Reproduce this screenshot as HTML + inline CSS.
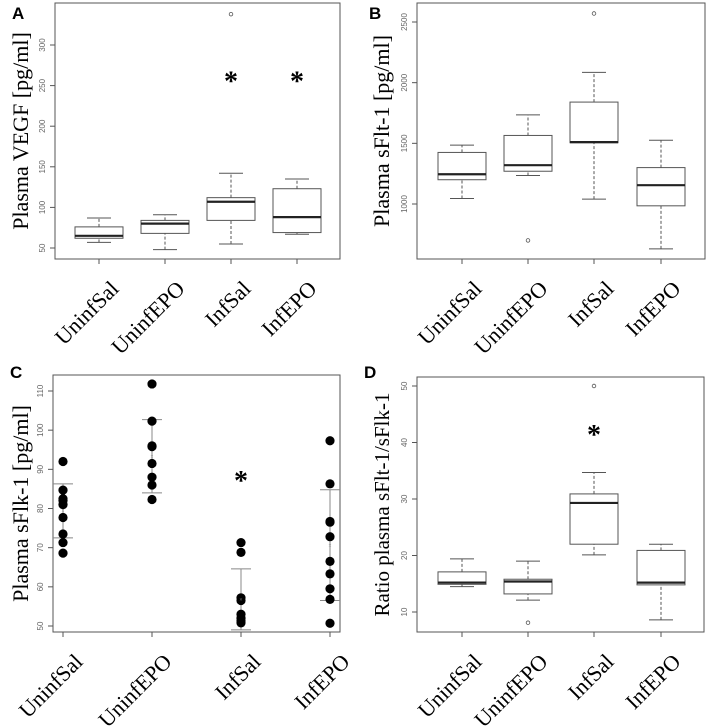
<!DOCTYPE html>
<html><head><meta charset="utf-8"><style>
body{margin:0;background:#fff;}
svg{display:block;font-family:"Liberation Serif",serif;}
.tk{font-family:"Liberation Sans",sans-serif;font-size:8px;fill:#666;}
.pl{font-family:"Liberation Sans",sans-serif;font-size:17px;font-weight:bold;fill:#000;}
</style></head><body>
<svg id="s" width="708" height="727" viewBox="0 0 708 727"></svg>
<script>
const categories=["UninfSal","UninfEPO","InfSal","InfEPO"];
// Panel A (VEGF) box stats: lo,q1,med,q3,hi
const aLo=[57,48,55,67], aQ1=[62,68,84,69], aMed=[65,80,107,88], aQ3=[76,84,112,123], aHi=[87,91,142,135];
const aOut=[[],[],[338],[]]; const aStar=[null,null,260,260];
const aTicks=[50,100,150,200,250,300];
// Panel B (sFlt-1)
const bLo=[1045,1235,1040,630], bQ1=[1200,1270,1505,985], bMed=[1245,1320,1510,1155], bQ3=[1425,1565,1840,1300], bHi=[1485,1735,2085,1525];
const bOut=[[],[700],[2570],[]]; const bStar=[null,null,null,null];
const bTicks=[1000,1500,2000,2500];
// Panel C (sFlk-1) points
const cPts=[[92,84.7,82.5,82,81,77.7,73.5,71.3,68.6],[111.8,102.3,96,95.8,91.5,88,86,82.3],[71.3,68.8,57.2,56.5,53,52,51.3,50.8],[97.3,86.3,76.7,76.5,72.8,66.5,63.3,59.5,56.8,50.7]];
const cMean=[79.5,93.3,56.8,70.6], cErrLo=[72.5,84,49,56.5], cErrHi=[86.3,102.7,64.6,84.8];
const cStar=[null,null,88,null];
const cTicks=[50,60,70,80,90,100,110];
// Panel D (ratio)
const dLo=[14.5,12.1,20.1,8.6], dQ1=[14.9,13.2,22,14.8], dMed=[15.2,15.4,29.3,15.2], dQ3=[17.1,15.8,30.9,20.9], dHi=[19.4,19,34.7,22];
const dOut=[[],[8.1],[50],[]]; const dStar=[null,null,42,null];
const dTicks=[10,20,30,40,50];

const S=document.getElementById('s');const NS="http://www.w3.org/2000/svg";
function mk(t,a,txt){const e=document.createElementNS(NS,t);for(const k in a)e.setAttribute(k,a[k]);if(txt!=null)e.textContent=txt;S.appendChild(e);return e;}

function panel(p){
  const yS=v=>p.y0+(v-p.v0)*(p.y1-p.y0)/(p.v1-p.v0);
  let e=mk('rect',{x:p.L,y:p.T,width:p.R-p.L,height:p.B-p.T,fill:'none',stroke:'#555','stroke-width':1});
  
  
  e=mk('text',{x:p.lx,y:p.ly,class:'pl'},p.letter);
  
  
  p.ticks.forEach(t=>{const y=yS(t);
    e=mk('line',{x1:p.L-5,x2:p.L,y1:y,y2:y,stroke:'#555'});
    
    
    e=mk('text',{x:p.L-10,y:y,class:'tk','text-anchor':'middle',transform:`rotate(-90 ${p.L-10} ${y})`},String(t));
    
    
  });
  const cy=(p.T+p.B)/2;
  e=mk('text',{x:p.tx,y:cy,'font-size':p.tfs||22,'text-anchor':'middle',transform:`rotate(-90 ${p.tx} ${cy})`},p.title);
  
  
  categories.forEach((c,i)=>{const x=p.cx[i];
    e=mk('line',{x1:x,x2:x,y1:p.B,y2:p.B+5,stroke:'#555'});
    
    
    const ax=x+21,ay=p.B+31;
    e=mk('text',{x:ax,y:ay,'font-size':22,'text-anchor':'end',transform:`rotate(-45 ${ax} ${ay})`},c);
    
    
  });
  if(p.box){const hw=24;
    categories.forEach((c,i)=>{const x=p.cx[i];
      const lo=yS(p.lo[i]),q1=yS(p.q1[i]),md=yS(p.med[i]),q3=yS(p.q3[i]),hi=yS(p.hi[i]);
      e=mk('line',{x1:x,x2:x,y1:lo,y2:q1,stroke:'#555','stroke-dasharray':'3,2'});
      
      
      e=mk('line',{x1:x,x2:x,y1:q3,y2:hi,stroke:'#555','stroke-dasharray':'3,2'});
      
      
      [lo,hi].forEach(y=>{e=mk('line',{x1:x-12,x2:x+12,y1:y,y2:y,stroke:'#555'});
        
        });
      e=mk('rect',{x:x-hw,y:q3,width:2*hw,height:q1-q3,fill:'#fff',stroke:'#555'});
      
      
      e=mk('line',{x1:x-hw,x2:x+hw,y1:md,y2:md,stroke:'#222','stroke-width':2.2});
      
      
      p.out[i].forEach(o=>{e=mk('circle',{cx:x,cy:yS(o),r:1.8,fill:'none',stroke:'#555','stroke-width':0.8});
        
        });
    });
  } else {
    categories.forEach((c,i)=>{const x=p.cx[i];
      const a=yS(p.eLo[i]),b=yS(p.eHi[i]);
      e=mk('line',{x1:x,x2:x,y1:a,y2:b,stroke:'#888'});
      
      
      [a,b].forEach(y=>{e=mk('line',{x1:x-10,x2:x+10,y1:y,y2:y,stroke:'#888'});
        
        });
      p.pts[i].forEach(v=>{e=mk('circle',{cx:x,cy:yS(v),r:4.6,fill:'#000'});
        
        });
      e=mk('text',{x:x,y:yS(p.mean[i])+2,'font-size':6,fill:'#888','text-anchor':'middle'},'×');
      
      
    });
  }
  p.star.forEach((s,i)=>{if(s==null)return;
    e=mk('text',{x:p.cx[i],y:yS(s)+13,'font-size':28,'font-weight':'bold','text-anchor':'middle',fill:'#000'},'*');
    
    });
}
panel({id:'panel-a',letter:'A',lx:12,ly:19,L:55,R:340,T:3,B:259,v0:50,y0:248,v1:300,y1:45,ticks:aTicks,tx:28,title:'Plasma VEGF [pg/ml]',
  cx:[99,165,231,297],box:true,lo:aLo,q1:aQ1,med:aMed,q3:aQ3,hi:aHi,out:aOut,star:aStar});
panel({id:'panel-b',letter:'B',lx:369,ly:19,L:417,R:705,T:3,B:259,v0:1000,y0:204,v1:2500,y1:22,ticks:bTicks,tx:389,title:'Plasma sFlt-1 [pg/ml]',
  cx:[462,528,594,661],box:true,lo:bLo,q1:bQ1,med:bMed,q3:bQ3,hi:bHi,out:bOut,star:bStar});
panel({id:'panel-c',letter:'C',lx:10,ly:378,L:53,R:340,T:375,B:632,v0:50,y0:626,v1:110,y1:391,ticks:cTicks,tx:28,title:'Plasma sFlk-1 [pg/ml]',
  cx:[63,152,241,330],box:false,pts:cPts,mean:cMean,eLo:cErrLo,eHi:cErrHi,star:cStar});
panel({id:'panel-d',letter:'D',lx:364,ly:378,L:417,R:704,T:377,B:632,v0:10,y0:612,v1:50,y1:386,ticks:dTicks,tx:389,tfs:21,title:'Ratio plasma sFlt-1/sFlk-1',
  cx:[462,528,594,661],box:true,lo:dLo,q1:dQ1,med:dMed,q3:dQ3,hi:dHi,out:dOut,star:dStar});
</script>
</body></html>
